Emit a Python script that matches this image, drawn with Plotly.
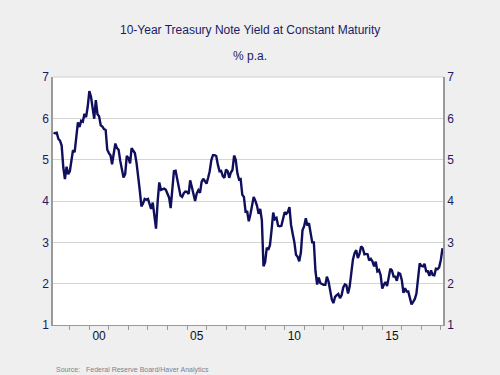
import pandas as pd
import plotly.graph_objects as go

start_month = "1998-03-01"
yields = [
    5.65, 5.64, 5.65, 5.50, 5.46, 5.34, 4.81, 4.53, 4.83, 4.65,
    4.72, 5.00, 5.23, 5.18, 5.54, 5.90, 5.79, 5.94, 5.92, 6.11, 6.03, 6.28,
    6.66, 6.52, 6.26, 5.99, 6.44, 6.10, 6.05, 5.83, 5.80, 5.74, 5.72, 5.24,
    5.16, 5.10, 4.89, 5.14, 5.39, 5.28, 5.24, 4.97, 4.73, 4.57, 4.65, 5.09,
    5.04, 4.91, 5.28, 5.21, 5.16, 4.93, 4.65, 4.26, 3.87, 3.94, 4.05, 4.03,
    4.05, 3.90, 3.81, 3.96, 3.57, 3.33, 3.98, 4.45, 4.27, 4.29, 4.30, 4.27,
    4.15, 4.08, 3.83, 4.35, 4.72, 4.73, 4.50, 4.28, 4.13, 4.10, 4.19, 4.23,
    4.22, 4.17, 4.50, 4.34, 4.14, 4.00, 4.18, 4.26, 4.20, 4.46, 4.54, 4.47,
    4.42, 4.57, 4.72, 4.99, 5.11, 5.11, 5.09, 4.88, 4.72, 4.73, 4.60, 4.56,
    4.76, 4.72, 4.56, 4.69, 4.75, 5.10, 5.00, 4.67, 4.52, 4.53, 4.15, 4.10,
    3.74, 3.74, 3.51, 3.68, 3.88, 4.10, 4.01, 3.89, 3.69, 3.81, 3.53, 2.42,
    2.52, 2.87, 2.82, 2.93, 3.29, 3.72, 3.56, 3.59, 3.40, 3.39, 3.40, 3.59,
    3.73, 3.69, 3.73, 3.85, 3.42, 3.20, 3.01, 2.70, 2.65, 2.54, 2.76, 3.29,
    3.39, 3.58, 3.41, 3.46, 3.17, 3.00, 3.00, 2.30, 1.98, 2.15, 2.01, 1.98,
    1.97, 1.97, 2.17, 2.05, 1.80, 1.62, 1.53, 1.68, 1.72, 1.75, 1.65, 1.72,
    1.91, 1.98, 1.96, 1.76, 1.93, 2.30, 2.58, 2.74, 2.81, 2.62, 2.72, 2.90,
    2.86, 2.71, 2.72, 2.71, 2.56, 2.60, 2.54, 2.42, 2.53, 2.30, 2.33, 2.21,
    1.88, 1.98, 2.04, 1.94, 2.20, 2.36, 2.32, 2.17, 2.17, 2.07, 2.26, 2.24,
    2.09, 1.78, 1.89, 1.81, 1.81, 1.64, 1.50, 1.56, 1.63, 1.76, 2.14, 2.49,
    2.43, 2.42, 2.48, 2.30, 2.30, 2.19, 2.32, 2.21, 2.20, 2.36, 2.35, 2.40,
    2.58, 2.86,
]
months = pd.date_range(start_month, periods=len(yields), freq="MS")

tick_vals = ["2000-07-01", "2005-07-01", "2010-07-01", "2015-07-01"]
tick_text = ["00", "05", "10", "15"]
y_ticks = [1, 2, 3, 4, 5, 6, 7]

navy = "#1b1b63"
font_family = "Liberation Sans, Arial, sans-serif"

W, H = 500, 375
L, R, T, B = 53, 57, 77, 50
pw, ph = W - L - R, H - T - B

def px_x(x):
    return (x - L) / pw

def px_y(y):
    return (H - B - y) / ph

fig = go.Figure()
fig.add_trace(go.Scatter(x=months, y=yields, mode="lines",
                         line=dict(color="#0f0f5c", width=2.4),
                         showlegend=False, hoverinfo="skip"))
fig.add_trace(go.Scatter(x=months, y=yields, mode="lines", yaxis="y2",
                         line=dict(color="rgba(0,0,0,0)", width=0),
                         showlegend=False, hoverinfo="skip"))

fig.update_layout(
    width=W, height=H,
    margin=dict(l=L, r=R, t=T, b=B),
    paper_bgcolor="#efefef",
    plot_bgcolor="#ffffff",
    font=dict(family=font_family, color=navy, size=11),
    xaxis=dict(
        range=["1998-02-20", "2018-02-10"],
        tickvals=tick_vals, ticktext=tick_text,
        ticks="", showgrid=False,
        tickfont=dict(color="#111111", size=12),
        showline=True, linecolor="#9a9a9a", linewidth=1,
        minor=dict(ticks="outside", ticklen=4, tickcolor="#9a9a9a",
                   dtick="M12", tick0="2000-01-01", showgrid=False),
        zeroline=False,
    ),
    yaxis=dict(
        range=[1, 7], tickvals=y_ticks, ticks="",
        showgrid=True, gridcolor="#d4d4d4", gridwidth=1,
        showline=True, linecolor="#9a9a9a", linewidth=1.5,
        tickfont=dict(color=navy, size=12), zeroline=False,
    ),
    yaxis2=dict(
        range=[1, 7], tickvals=y_ticks, ticks="", overlaying="y", side="right",
        showgrid=False, showline=True, linecolor="#9a9a9a", linewidth=1.5,
        tickfont=dict(color=navy, size=12), zeroline=False,
    ),
    annotations=[
        dict(text="10-Year Treasury Note Yield at Constant Maturity",
             x=px_x(250), y=px_y(30), xref="paper", yref="paper", showarrow=False,
             yanchor="middle", font=dict(size=12, color=navy)),
        dict(text="% p.a.", x=px_x(250), y=px_y(56), xref="paper", yref="paper",
             showarrow=False, yanchor="middle", font=dict(size=12, color=navy)),
        dict(text="Source:   Federal Reserve Board/Haver Analytics",
             x=px_x(54), y=px_y(370), xref="paper", yref="paper", showarrow=False,
             xanchor="left", yanchor="middle", font=dict(size=7, color="#80808e")),
    ],
    shapes=[dict(type="line", xref="paper", yref="paper", x0=0, x1=1, y0=1, y1=1,
                 line=dict(color="#cfcfcf", width=1))],
)

fig.write_html(
    "out.html",
    config={"displayModeBar": False},
    post_script="document.body.style.margin='0';document.body.style.background='#efefef';",
)
